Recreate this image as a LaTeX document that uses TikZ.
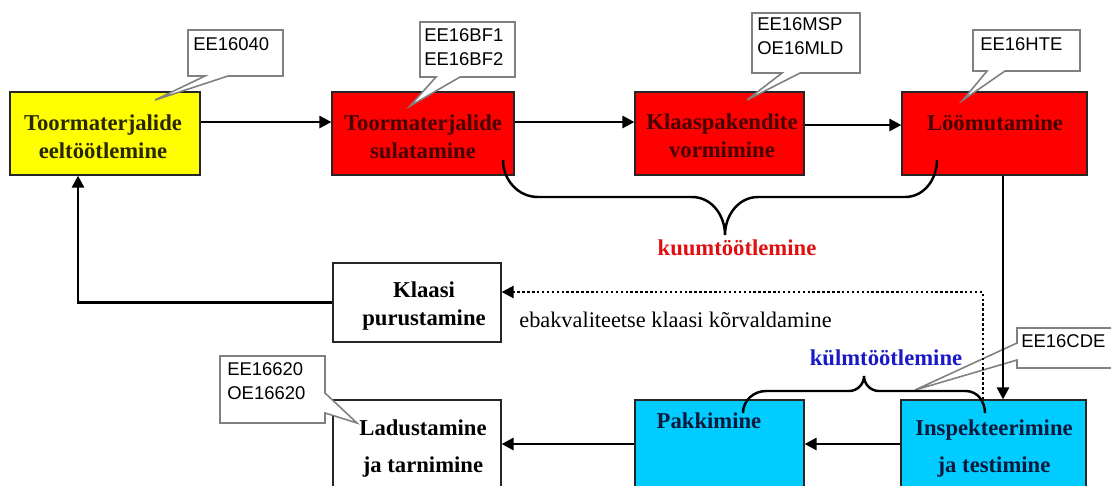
\documentclass[tikz,border=0pt]{standalone}
\usepackage{fontspec}
\setmainfont{Liberation Serif}
\newfontfamily\calloutfont{Liberation Sans}
\usetikzlibrary{arrows.meta}

\definecolor{boxyellow}{RGB}{255,255,0}
\definecolor{boxred}{RGB}{255,0,0}
\definecolor{boxcyan}{RGB}{0,204,255}
\definecolor{txtred}{RGB}{70,0,0}
\definecolor{txtyellow}{RGB}{40,40,0}
\definecolor{txtcyan}{RGB}{10,25,60}
\definecolor{hotred}{RGB}{225,15,15}
\definecolor{coldblue}{RGB}{25,25,200}

\begin{document}
\begin{tikzpicture}[x=0.02cm,y=-0.02cm,
  stage/.style={draw=black!85, line width=0.7pt, inner sep=0pt},
  stagetext/.style={font=\fontsize{12.9}{15.9}\selectfont\bfseries, align=center, inner sep=0pt},
  lowtext/.style={font=\fontsize{12.9}{21}\selectfont\bfseries, align=center, inner sep=0pt},
  flow/.style={line width=1.6pt, -{Triangle[length=6.8pt,width=6.8pt]}},
  reject/.style={line width=1.4pt, dash pattern=on 1.4pt off 1.4pt, -{Triangle[length=6.8pt,width=6.8pt]}},
  callout/.style={draw=black!50, fill=white, line width=0.9pt, line join=miter},
  callouttext/.style={font=\calloutfont\fontsize{10.5}{14}\selectfont, anchor=north west, inner sep=0pt, align=left},
  brace/.style={line width=1.4pt},
]
\useasboundingbox (0,0) rectangle (1111,485);
\clip (0,0) rectangle (1111,485);

% process stages
\node[stage, fill=boxyellow, minimum width=3.8cm,  minimum height=1.66cm] (pre)   at (105,133.5) {};
\node[stage, fill=boxred,    minimum width=3.64cm, minimum height=1.66cm] (melt)  at (423,133.5) {};
\node[stage, fill=boxred,    minimum width=3.38cm, minimum height=1.66cm] (form)  at (719.5,133.5) {};
\node[stage, fill=boxred,    minimum width=3.7cm,  minimum height=1.66cm] (anneal) at (994.5,133.5) {};
\node[stage, fill=white,     minimum width=3.36cm, minimum height=1.58cm] (crush) at (417,302.5) {};
\node[stage, fill=white,     minimum width=3.36cm, minimum height=1.9cm]  (store) at (417,447.5) {};
\node[stage, fill=boxcyan,   minimum width=3.38cm, minimum height=1.9cm]  (pack)  at (719.5,447.5) {};
\node[stage, fill=boxcyan,   minimum width=3.7cm,  minimum height=1.9cm]  (test)  at (993.5,447.5) {};

% stage labels
\node[stagetext, text=txtyellow] (preT)    at (103,136.3) {Toormaterjalide\\eeltöötlemine};
\node[stagetext, text=txtred]    (meltT)   at (423,136.3) {Toormaterjalide\\sulatamine};
\node[stagetext, text=txtred]    (formT)   at (722,135.8) {Klaaspakendite\\vormimine};
\node[stagetext, text=txtred]    (annealT) at (995,122.3) {Löömutamine};
\node[stagetext, text=black]     (crushT)  at (424,306.3) {Klaasi\\purustamine};
\node[lowtext,   text=black]     (storeT)  at (423,448.3) {Ladustamine\\ja tarnimine};
\node[stagetext, text=txtcyan]   (packT)   at (709,420.3) {Pakkimine};
\node[lowtext,   text=txtcyan]   (testT)   at (994,448.3) {Inspekteerimine\\ja testimine};

% inspection code callout sits beneath the flow lines
\path[callout] (1017,328) -- (1116,328) -- (1116,368) -- (1017,368) -- (1017,360) -- (915,390) -- (1017,343) -- cycle;
\node[callouttext] (c6) at (1021,334) {EE16CDE};

% main flow
\draw[flow] ([yshift=0.23cm]pre.east)  -- ([yshift=0.23cm]melt.west);
\draw[flow] ([yshift=0.23cm]melt.east) -- ([yshift=0.23cm]form.west);
\draw[flow] ([yshift=0.17cm]form.east) -- ([yshift=0.17cm]anneal.west);
\draw[flow] ([xshift=0.17cm]anneal.south) -- ([xshift=0.19cm]test.north);
\draw[flow] ([yshift=0.07cm]test.west) -- ([yshift=0.07cm]pack.east);
\draw[flow] ([yshift=0.07cm]pack.west) -- ([yshift=0.07cm]store.east);
\draw[flow] (crush.west) -| ([xshift=-0.54cm]pre.south);
\draw[reject] ([xshift=-0.21cm]test.north) |- ([yshift=0.21cm]crush.east);
\node[font=\fontsize{12.7}{15}\selectfont, anchor=base west, inner sep=0pt] (rejectT) at (519,327) {ebakvaliteetse klaasi kõrvaldamine};

% hot-end brace
\draw[brace] (503,160) to[out=-90,in=180] (538,197) -- (692,197)
  to[out=0,in=90] (725,235) to[out=90,in=180] (758,197) -- (905,197)
  to[out=0,in=-90] (937,160);
\node[font=\fontsize{12.9}{15}\selectfont\bfseries, text=hotred, anchor=base, inner sep=0pt] (hotT) at (737,255) {kuumtöötlemine};

% cold-end brace
\draw[brace] (743,413) to[out=90,in=180] (766,391) -- (849,391)
  to[out=0,in=-90] (864,376) to[out=-90,in=180] (879,391) -- (966,391)
  to[out=0,in=90] (985,413);
\node[font=\fontsize{12.9}{15}\selectfont\bfseries, text=coldblue, anchor=base, inner sep=0pt] (coldT) at (886,365) {külmtöötlemine};

% product code callouts
\path[callout] (188,30) -- (283,30) -- (283,76) -- (228,76) -- (155,100) -- (205,76) -- (188,76) -- cycle;
\node[callouttext] (c1) at (193,37) {EE16040};

\path[callout] (420,22) -- (515,22) -- (515,77) -- (460,77) -- (410,106) -- (436,77) -- (420,77) -- cycle;
\node[callouttext] (c2) at (424,28) {EE16BF1\\EE16BF2};

\path[callout] (752,13) -- (860,13) -- (860,73) -- (800,73) -- (747,100) -- (782,73) -- (752,73) -- cycle;
\node[callouttext] (c3) at (757,17) {EE16MSP\\OE16MLD};

\path[callout] (973,30) -- (1080,30) -- (1080,71) -- (1005,71) -- (963,100) -- (987,71) -- (973,71) -- cycle;
\node[callouttext] (c4) at (980,37) {EE16HTE};

\path[callout] (220,356) -- (325,356) -- (325,393) -- (357,423) -- (325,413) -- (325,423) -- (220,423) -- cycle;
\node[callouttext] (c5) at (227,362) {EE16620\\OE16620};
\end{tikzpicture}
\end{document}
